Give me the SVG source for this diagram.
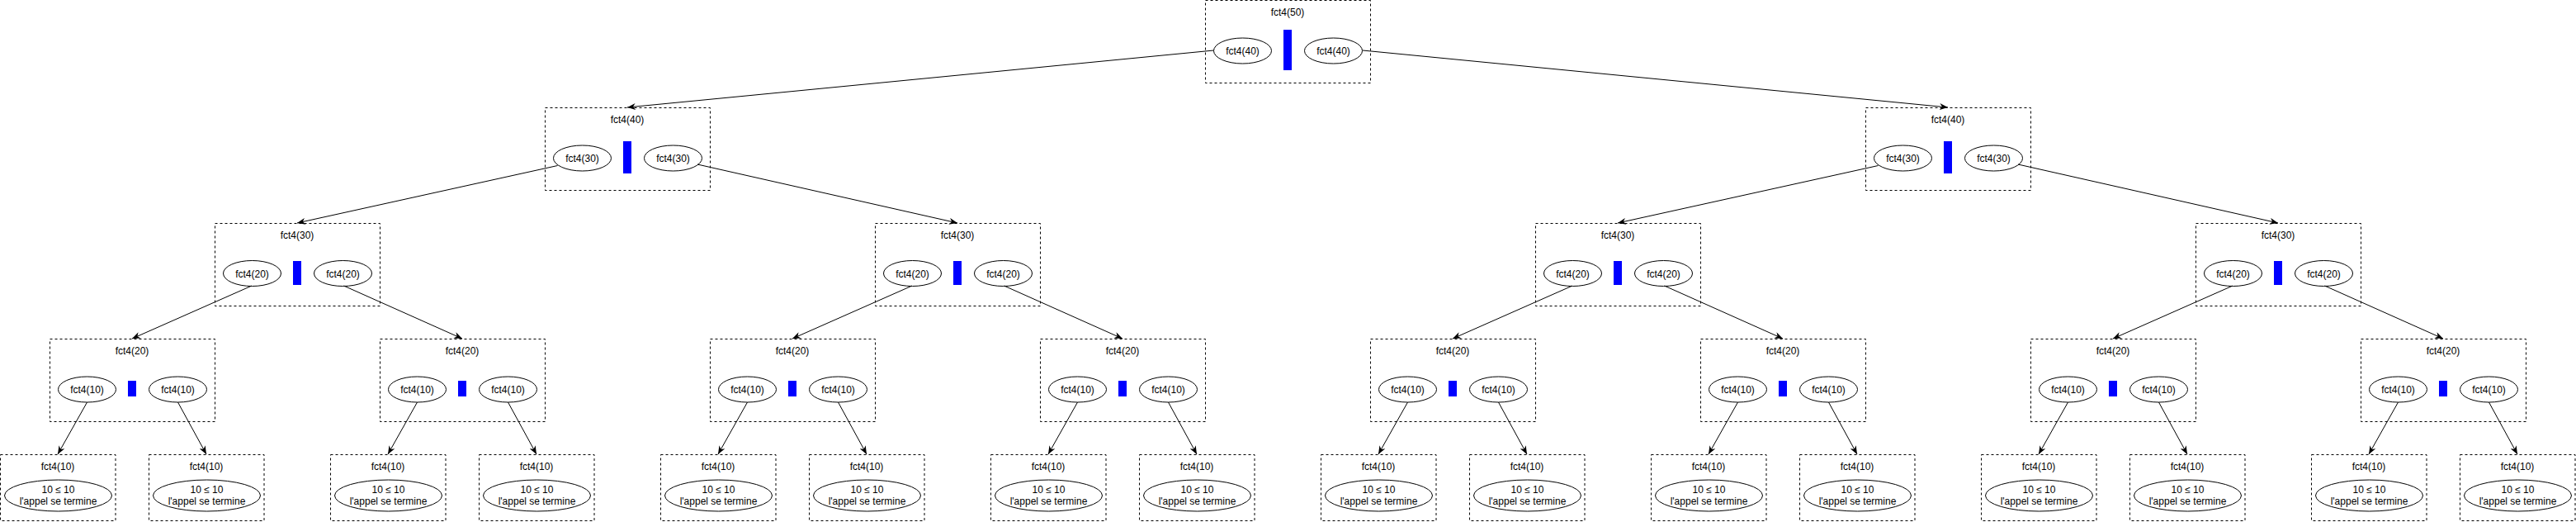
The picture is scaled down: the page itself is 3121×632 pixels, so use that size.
<svg xmlns="http://www.w3.org/2000/svg" width="3121" height="632" viewBox="0 0 3121 632">
<style>
.box{fill:none;stroke:#000;stroke-width:1;stroke-dasharray:3 3}
.ell{fill:#fff;stroke:#000;stroke-width:1}
.bar{fill:#0000ff;stroke:none}
.t{font-family:"Liberation Sans",Arial,sans-serif;font-size:12px;fill:#000;text-anchor:middle}
.c{fill:none;stroke:#000;stroke-width:1;marker-end:url(#arr)}
</style>
<defs>
<marker id="arr" viewBox="0 0 10 8" markerWidth="10" markerHeight="8" refX="10" refY="4" orient="auto" markerUnits="userSpaceOnUse">
<path d="M0,0 L10,4 L0,8 L3,4 Z" fill="#000"/>
</marker>
<g id="leaf">
<rect class="box" x="0.5" y="0.5" width="139.5" height="80"/>
<text class="t" x="70" y="19">fct4(10)</text>
<ellipse class="ell" cx="70.5" cy="50" rx="65" ry="19"/>
<text class="t" x="70.5" y="47">10 ≤ 10</text>
<text class="t" x="70.5" y="61">l'appel se termine</text>
</g>
</defs>
<rect width="3121" height="632" fill="#fff"/>
<g id="n50" transform="translate(1460,0)">
<rect class="box" x="0.5" y="0.5" width="200" height="100"/>
<text class="t" x="100" y="19">fct4(50)</text>
<ellipse class="ell" cx="45.5" cy="61.5" rx="35" ry="15.5"/><text class="t" x="45.5" y="66">fct4(40)</text>
<rect class="bar" x="95" y="36" width="10" height="49"/>
<ellipse class="ell" cx="155.5" cy="61.5" rx="35" ry="15.5"/><text class="t" x="155.5" y="66">fct4(40)</text>
</g>
<g id="n40a" transform="translate(660,130)">
<rect class="box" x="0.5" y="0.5" width="200" height="100"/>
<text class="t" x="100" y="19">fct4(40)</text>
<ellipse class="ell" cx="45.5" cy="61.5" rx="35" ry="15.5"/><text class="t" x="45.5" y="66">fct4(30)</text>
<rect class="bar" x="95" y="41" width="10" height="39"/>
<ellipse class="ell" cx="155.5" cy="61.5" rx="35" ry="15.5"/><text class="t" x="155.5" y="66">fct4(30)</text>
</g>
<g id="n40b" transform="translate(2260,130)">
<rect class="box" x="0.5" y="0.5" width="200" height="100"/>
<text class="t" x="100" y="19">fct4(40)</text>
<ellipse class="ell" cx="45.5" cy="61.5" rx="35" ry="15.5"/><text class="t" x="45.5" y="66">fct4(30)</text>
<rect class="bar" x="95" y="41" width="10" height="39"/>
<ellipse class="ell" cx="155.5" cy="61.5" rx="35" ry="15.5"/><text class="t" x="155.5" y="66">fct4(30)</text>
</g>
<g id="n30a" transform="translate(260,270)">
<rect class="box" x="0.5" y="0.5" width="200" height="100"/>
<text class="t" x="100" y="19">fct4(30)</text>
<ellipse class="ell" cx="45.5" cy="61" rx="35" ry="15.5"/><text class="t" x="45.5" y="65.5">fct4(20)</text>
<rect class="bar" x="95" y="46" width="10" height="29"/>
<ellipse class="ell" cx="155.5" cy="61" rx="35" ry="15.5"/><text class="t" x="155.5" y="65.5">fct4(20)</text>
</g>
<g id="n30b" transform="translate(1060,270)">
<rect class="box" x="0.5" y="0.5" width="200" height="100"/>
<text class="t" x="100" y="19">fct4(30)</text>
<ellipse class="ell" cx="45.5" cy="61" rx="35" ry="15.5"/><text class="t" x="45.5" y="65.5">fct4(20)</text>
<rect class="bar" x="95" y="46" width="10" height="29"/>
<ellipse class="ell" cx="155.5" cy="61" rx="35" ry="15.5"/><text class="t" x="155.5" y="65.5">fct4(20)</text>
</g>
<g id="n30c" transform="translate(1860,270)">
<rect class="box" x="0.5" y="0.5" width="200" height="100"/>
<text class="t" x="100" y="19">fct4(30)</text>
<ellipse class="ell" cx="45.5" cy="61" rx="35" ry="15.5"/><text class="t" x="45.5" y="65.5">fct4(20)</text>
<rect class="bar" x="95" y="46" width="10" height="29"/>
<ellipse class="ell" cx="155.5" cy="61" rx="35" ry="15.5"/><text class="t" x="155.5" y="65.5">fct4(20)</text>
</g>
<g id="n30d" transform="translate(2660,270)">
<rect class="box" x="0.5" y="0.5" width="200" height="100"/>
<text class="t" x="100" y="19">fct4(30)</text>
<ellipse class="ell" cx="45.5" cy="61" rx="35" ry="15.5"/><text class="t" x="45.5" y="65.5">fct4(20)</text>
<rect class="bar" x="95" y="46" width="10" height="29"/>
<ellipse class="ell" cx="155.5" cy="61" rx="35" ry="15.5"/><text class="t" x="155.5" y="65.5">fct4(20)</text>
</g>
<g id="n20a" transform="translate(60,410)">
<rect class="box" x="0.5" y="0.5" width="200" height="100"/>
<text class="t" x="100" y="19">fct4(20)</text>
<ellipse class="ell" cx="45.5" cy="61.5" rx="35" ry="15.5"/><text class="t" x="45.5" y="66">fct4(10)</text>
<rect class="bar" x="95" y="51" width="10" height="19"/>
<ellipse class="ell" cx="155.5" cy="61.5" rx="35" ry="15.5"/><text class="t" x="155.5" y="66">fct4(10)</text>
</g>
<g id="n20b" transform="translate(460,410)">
<rect class="box" x="0.5" y="0.5" width="200" height="100"/>
<text class="t" x="100" y="19">fct4(20)</text>
<ellipse class="ell" cx="45.5" cy="61.5" rx="35" ry="15.5"/><text class="t" x="45.5" y="66">fct4(10)</text>
<rect class="bar" x="95" y="51" width="10" height="19"/>
<ellipse class="ell" cx="155.5" cy="61.5" rx="35" ry="15.5"/><text class="t" x="155.5" y="66">fct4(10)</text>
</g>
<g id="n20c" transform="translate(860,410)">
<rect class="box" x="0.5" y="0.5" width="200" height="100"/>
<text class="t" x="100" y="19">fct4(20)</text>
<ellipse class="ell" cx="45.5" cy="61.5" rx="35" ry="15.5"/><text class="t" x="45.5" y="66">fct4(10)</text>
<rect class="bar" x="95" y="51" width="10" height="19"/>
<ellipse class="ell" cx="155.5" cy="61.5" rx="35" ry="15.5"/><text class="t" x="155.5" y="66">fct4(10)</text>
</g>
<g id="n20d" transform="translate(1260,410)">
<rect class="box" x="0.5" y="0.5" width="200" height="100"/>
<text class="t" x="100" y="19">fct4(20)</text>
<ellipse class="ell" cx="45.5" cy="61.5" rx="35" ry="15.5"/><text class="t" x="45.5" y="66">fct4(10)</text>
<rect class="bar" x="95" y="51" width="10" height="19"/>
<ellipse class="ell" cx="155.5" cy="61.5" rx="35" ry="15.5"/><text class="t" x="155.5" y="66">fct4(10)</text>
</g>
<g id="n20e" transform="translate(1660,410)">
<rect class="box" x="0.5" y="0.5" width="200" height="100"/>
<text class="t" x="100" y="19">fct4(20)</text>
<ellipse class="ell" cx="45.5" cy="61.5" rx="35" ry="15.5"/><text class="t" x="45.5" y="66">fct4(10)</text>
<rect class="bar" x="95" y="51" width="10" height="19"/>
<ellipse class="ell" cx="155.5" cy="61.5" rx="35" ry="15.5"/><text class="t" x="155.5" y="66">fct4(10)</text>
</g>
<g id="n20f" transform="translate(2060,410)">
<rect class="box" x="0.5" y="0.5" width="200" height="100"/>
<text class="t" x="100" y="19">fct4(20)</text>
<ellipse class="ell" cx="45.5" cy="61.5" rx="35" ry="15.5"/><text class="t" x="45.5" y="66">fct4(10)</text>
<rect class="bar" x="95" y="51" width="10" height="19"/>
<ellipse class="ell" cx="155.5" cy="61.5" rx="35" ry="15.5"/><text class="t" x="155.5" y="66">fct4(10)</text>
</g>
<g id="n20g" transform="translate(2460,410)">
<rect class="box" x="0.5" y="0.5" width="200" height="100"/>
<text class="t" x="100" y="19">fct4(20)</text>
<ellipse class="ell" cx="45.5" cy="61.5" rx="35" ry="15.5"/><text class="t" x="45.5" y="66">fct4(10)</text>
<rect class="bar" x="95" y="51" width="10" height="19"/>
<ellipse class="ell" cx="155.5" cy="61.5" rx="35" ry="15.5"/><text class="t" x="155.5" y="66">fct4(10)</text>
</g>
<g id="n20h" transform="translate(2860,410)">
<rect class="box" x="0.5" y="0.5" width="200" height="100"/>
<text class="t" x="100" y="19">fct4(20)</text>
<ellipse class="ell" cx="45.5" cy="61.5" rx="35" ry="15.5"/><text class="t" x="45.5" y="66">fct4(10)</text>
<rect class="bar" x="95" y="51" width="10" height="19"/>
<ellipse class="ell" cx="155.5" cy="61.5" rx="35" ry="15.5"/><text class="t" x="155.5" y="66">fct4(10)</text>
</g>
<g id="leaf1" transform="translate(0,550)"><use href="#leaf"/></g>
<g id="leaf2" transform="translate(180,550)"><use href="#leaf"/></g>
<g id="leaf3" transform="translate(400,550)"><use href="#leaf"/></g>
<g id="leaf4" transform="translate(580,550)"><use href="#leaf"/></g>
<g id="leaf5" transform="translate(800,550)"><use href="#leaf"/></g>
<g id="leaf6" transform="translate(980,550)"><use href="#leaf"/></g>
<g id="leaf7" transform="translate(1200,550)"><use href="#leaf"/></g>
<g id="leaf8" transform="translate(1380,550)"><use href="#leaf"/></g>
<g id="leaf9" transform="translate(1600,550)"><use href="#leaf"/></g>
<g id="leaf10" transform="translate(1780,550)"><use href="#leaf"/></g>
<g id="leaf11" transform="translate(2000,550)"><use href="#leaf"/></g>
<g id="leaf12" transform="translate(2180,550)"><use href="#leaf"/></g>
<g id="leaf13" transform="translate(2400,550)"><use href="#leaf"/></g>
<g id="leaf14" transform="translate(2580,550)"><use href="#leaf"/></g>
<g id="leaf15" transform="translate(2800,550)"><use href="#leaf"/></g>
<g id="leaf16" transform="translate(2980,550)"><use href="#leaf"/></g>
<g id="connectors">
<line class="c" x1="1470.5" y1="61" x2="760" y2="130"/>
<line class="c" x1="1651" y1="61" x2="2360" y2="130"/>
<line class="c" x1="675.5" y1="200.5" x2="360" y2="270"/>
<line class="c" x1="845" y1="199" x2="1160" y2="270"/>
<line class="c" x1="2275.5" y1="200.5" x2="1960" y2="270"/>
<line class="c" x1="2445" y1="199" x2="2760" y2="270"/>
<line class="c" x1="305" y1="346" x2="160" y2="410"/>
<line class="c" x1="416.5" y1="346" x2="560" y2="410"/>
<line class="c" x1="1105" y1="346" x2="960" y2="410"/>
<line class="c" x1="1216.5" y1="346" x2="1360" y2="410"/>
<line class="c" x1="1905" y1="346" x2="1760" y2="410"/>
<line class="c" x1="2016.5" y1="346" x2="2160" y2="410"/>
<line class="c" x1="2705" y1="346" x2="2560" y2="410"/>
<line class="c" x1="2816.5" y1="346" x2="2960" y2="410"/>
<line class="c" x1="105.5" y1="487" x2="70" y2="550"/>
<line class="c" x1="215.5" y1="487" x2="250" y2="550"/>
<line class="c" x1="505.5" y1="487" x2="470" y2="550"/>
<line class="c" x1="615.5" y1="487" x2="650" y2="550"/>
<line class="c" x1="905.5" y1="487" x2="870" y2="550"/>
<line class="c" x1="1015.5" y1="487" x2="1050" y2="550"/>
<line class="c" x1="1305.5" y1="487" x2="1270" y2="550"/>
<line class="c" x1="1415.5" y1="487" x2="1450" y2="550"/>
<line class="c" x1="1705.5" y1="487" x2="1670" y2="550"/>
<line class="c" x1="1815.5" y1="487" x2="1850" y2="550"/>
<line class="c" x1="2105.5" y1="487" x2="2070" y2="550"/>
<line class="c" x1="2215.5" y1="487" x2="2250" y2="550"/>
<line class="c" x1="2505.5" y1="487" x2="2470" y2="550"/>
<line class="c" x1="2615.5" y1="487" x2="2650" y2="550"/>
<line class="c" x1="2905.5" y1="487" x2="2870" y2="550"/>
<line class="c" x1="3015.5" y1="487" x2="3050" y2="550"/>
</g>
</svg>
